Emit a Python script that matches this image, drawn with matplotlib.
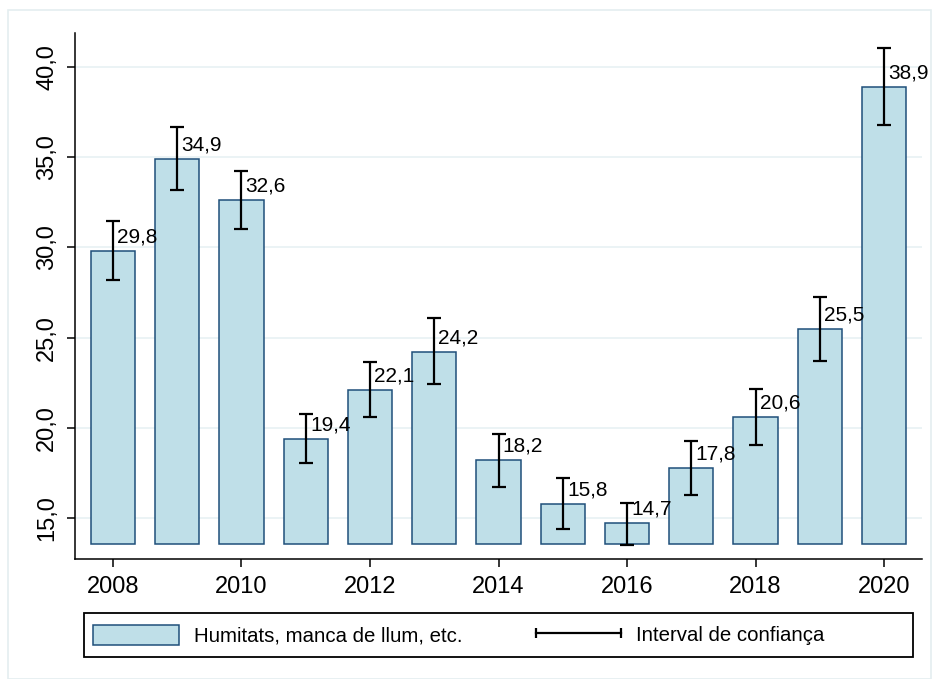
import matplotlib.pyplot as plt
from matplotlib.lines import Line2D
from matplotlib.patches import Rectangle
from matplotlib.legend_handler import HandlerLine2D
import numpy as np

plt.rc('font', family=['Liberation Sans', 'DejaVu Sans'])

years  = [2008, 2009, 2010, 2011, 2012, 2013, 2014, 2015, 2016, 2017, 2018, 2019, 2020]
values = [29.8, 34.9, 32.6, 19.4, 22.1, 24.2, 18.2, 15.8, 14.7, 17.8, 20.6, 25.5, 38.9]
ci_hi  = [31.46, 36.67, 34.24, 20.77, 23.65, 26.09, 19.66, 17.22, 15.83, 19.27, 22.15, 27.25, 41.05]
ci_lo  = [28.19, 33.18, 31.02, 18.05, 20.60, 22.43, 16.72, 14.39, 13.50, 16.27, 19.05, 23.70, 36.78]
base   = 13.55

barcol  = '#bfdfe8'
edgecol = '#1f4f7a'
W, H = 936., 679.

fig = plt.figure(figsize=(9.36, 6.79), dpi=100)
ax = fig.add_axes([75/W, 1-559/H, (922-75)/W, (559-33)/H])

# outer graph region frame
fig.patches.append(Rectangle((8/W, 0), 1-13/W, 1-10/H, transform=fig.transFigure,
                             fill=False, edgecolor='#e4eef0', linewidth=1.2, zorder=-5))

x = np.array(years)
v = np.array(values)
ax.bar(x, v - base, bottom=base, width=0.69, color=barcol, edgecolor=edgecol,
       linewidth=1.1, zorder=2)
ax.errorbar(x, v, yerr=[v - np.array(ci_lo), np.array(ci_hi) - v], fmt='none',
            ecolor='black', elinewidth=1.6, capsize=4.7, capthick=1.6, zorder=3)

for xi, vi in zip(x, v):
    ax.text(xi + 0.065, vi + 0.25, ('%.1f' % vi).replace('.', ','), fontsize=15,
            ha='left', va='bottom', zorder=4, clip_on=False)

ax.set_xlim(2007.41, 2020.59)
ax.set_ylim(12.73, 41.88)
ax.set_yticks([15, 20, 25, 30, 35, 40])
ax.set_yticklabels(['15,0', '20,0', '25,0', '30,0', '35,0', '40,0'], rotation=90, va='center')
ax.set_xticks([2008, 2010, 2012, 2014, 2016, 2018, 2020])
ax.tick_params(axis='both', labelsize=17, length=6, width=1.1, direction='out', pad=6)
ax.grid(axis='y', color='#e9f2f4', linewidth=1.3, zorder=0)
ax.set_axisbelow(True)
for s in ['top', 'right']:
    ax.spines[s].set_visible(False)
for s in ['left', 'bottom']:
    ax.spines[s].set_linewidth(1.1)

# legend box
fig.patches.append(Rectangle((84/W, 1-657/H), (913-84)/W, 44/H, transform=fig.transFigure,
                             fill=False, edgecolor='black', linewidth=1.3))
h_bar = Rectangle((0, 0), 1, 1, facecolor=barcol, edgecolor=edgecol, linewidth=1.1)
h_ci = Line2D([], [], color='black', linewidth=1.6, marker='|', markersize=7.5, markeredgewidth=1.6)
leg = fig.legend([h_bar, h_ci], ['Humitats, manca de llum, etc.', 'Interval de confiança'],
                 loc='center left', bbox_to_anchor=(84/W, 1-635/H),
                 ncol=2, fontsize=14.7, numpoints=2, frameon=False,
                 handlelength=4.2, handleheight=1.13, borderpad=0.44,
                 handletextpad=0.73, columnspacing=3.6, borderaxespad=0,
                 handler_map={h_ci: HandlerLine2D(marker_pad=0)})

fig.savefig('out.png', dpi=100)
